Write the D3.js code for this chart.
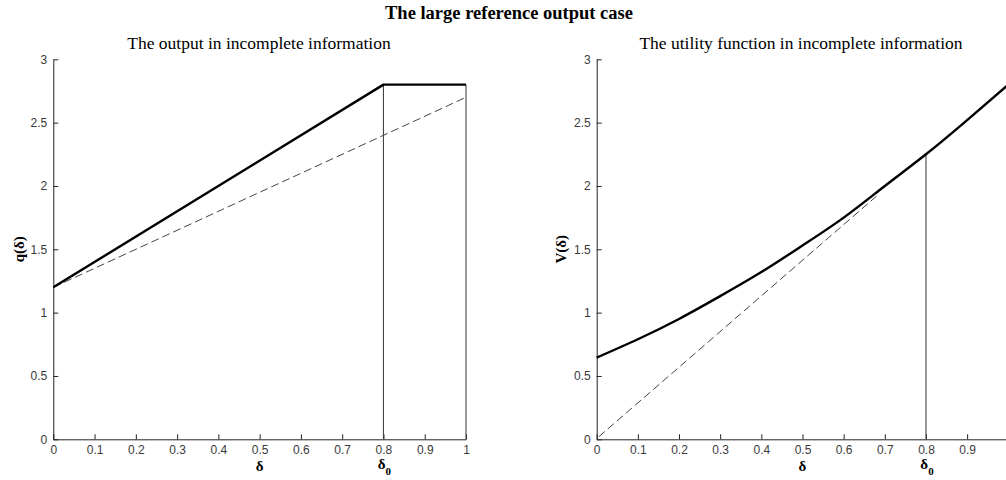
<!DOCTYPE html>
<html><head><meta charset="utf-8">
<script src="https://cdn.jsdelivr.net/npm/d3@7"></script>
<style>
body{margin:0;background:#fff;}
svg{display:block;}
.tick text{font-family:"Liberation Sans",Arial,sans-serif;font-size:12px;fill:#3a3a3a;}
.tick line{stroke:#222;}
.domain{stroke:#222;}
.ttl{font-family:"Liberation Serif","Times New Roman",serif;fill:#000;}
</style></head>
<body>
<svg id="c" width="1006" height="480"></svg>
<script>
// ---- data ----
const mainTitle = "The large reference output case";
const leftTitle = "The output in incomplete information";
const rightTitle = "The utility function in incomplete information";
const xTicks = [0,0.1,0.2,0.3,0.4,0.5,0.6,0.7,0.8,0.9,1];
const yTicks = [0,0.5,1,1.5,2,2.5,3];
const delta0 = 0.8;
// left panel: q(δ)
const qSolidX = [0, 0.8, 1];
const qSolidY = [1.2, 2.8, 2.8];
const qDashX = [0, 1];
const qDashY = [1.2, 2.7];
const qVertX = [0.8, 1];
const qVertTop = [2.8, 2.8];
// right panel: V(δ)
const vSolidX = [0, 0.1, 0.2, 0.3, 0.4, 0.5, 0.6, 0.7, 0.8, 0.9, 1];
const vSolidY = [0.645, 0.79, 0.95, 1.13, 1.32, 1.53, 1.75, 2.0, 2.25, 2.52, 2.8];
const vDashX = [0.005, 0.68];
const vDashY = [0.02, 1.92];
const vVertX = [0.8];
const vVertTop = [2.25];

const svg = d3.select("#c");
const fmt = d3.format("~g");
const yScale = d3.scaleLinear().domain([0,3]).range([439.3,59.3]);

svg.append("text").attr("class","ttl").attr("x",509).attr("y",19)
  .attr("text-anchor","middle").attr("font-weight","bold").attr("font-size",18.5).text(mainTitle);

function panel(opt){
  const x = d3.scaleLinear().domain([0,1]).range(opt.range);
  const g = svg.append("g");
  g.append("text").attr("class","ttl").attr("x",opt.titleX).attr("y",49)
    .attr("text-anchor","middle").attr("font-size",17.5).text(opt.title);
  const xa = g.append("g").attr("transform",`translate(0,${yScale(0)})`)
    .call(d3.axisBottom(x).tickValues(xTicks).tickFormat(fmt).tickSize(-5).tickSizeOuter(0).tickPadding(5));
  xa.selectAll(".tick text").attr("dy","0.8em");
  g.append("g").attr("transform",`translate(${x(0)},0)`)
    .call(d3.axisLeft(yScale).tickValues(yTicks).tickFormat(fmt).tickSize(-5).tickSizeOuter(0).tickPadding(6));
  g.append("text").attr("class","ttl").attr("font-weight","bold").attr("font-size",15)
    .attr("text-anchor","middle")
    .attr("transform",`translate(${opt.ylabX},${yScale(1.5)}) rotate(-90)`)
    .text(opt.ylab);
  g.append("text").attr("class","ttl").attr("font-weight","bold").attr("font-size",15)
    .attr("text-anchor","middle").attr("x",x(0.5)).attr("y",471).text("δ");
  const d0 = g.append("text").attr("class","ttl").attr("font-weight","bold").attr("font-size",15)
    .attr("text-anchor","middle").attr("x",x(delta0)+1).attr("y",469);
  d0.append("tspan").text("δ");
  d0.append("tspan").attr("font-size",11).attr("dy",6).text("0");
  opt.vx.forEach((vx,i)=>{
    g.append("line").attr("x1",x(vx)).attr("x2",x(vx))
      .attr("y1",yScale(0)).attr("y2",yScale(opt.vtop[i]))
      .attr("stroke","#444").attr("stroke-width",1.1);
  });
  const line = d3.line().x(d=>x(d[0])).y(d=>yScale(d[1]));
  g.append("path").attr("d",line(d3.zip(opt.dx,opt.dy))).attr("fill","none")
    .attr("stroke","#444").attr("stroke-width",1).attr("stroke-dasharray","8,4");
  const sl = opt.curve ? line.curve(d3.curveNatural) : line;
  g.append("path").attr("d",sl(d3.zip(opt.sx,opt.sy))).attr("fill","none")
    .attr("stroke","#000").attr("stroke-width",2.4).attr("stroke-linejoin","round");
}

panel({range:[53.3,466], titleX:259, title:leftTitle, ylab:"q(δ)", ylabX:24,
  vx:qVertX, vtop:qVertTop, dx:qDashX, dy:qDashY, sx:qSolidX, sy:qSolidY, curve:false});
panel({range:[596.7,1008.3], titleX:801, title:rightTitle, ylab:"V(δ)", ylabX:566,
  vx:vVertX, vtop:vVertTop, dx:vDashX, dy:vDashY, sx:vSolidX, sy:vSolidY, curve:true});
</script>
</body></html>
